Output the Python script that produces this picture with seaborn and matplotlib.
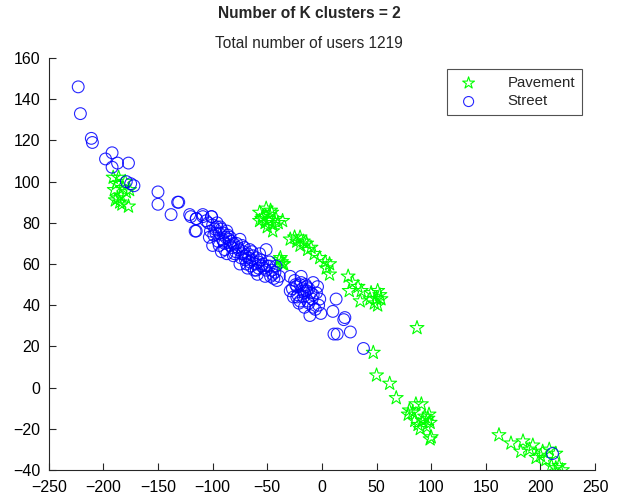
import matplotlib
matplotlib.use("Agg")
import matplotlib.pyplot as plt
import seaborn as sns
import pandas as pd

# --- dados (coordenadas aproximadas) ---
street_x = [-223, -221, -211, -210, -192, -198, -187, -177, -192, -179, -175, -172,
            -150, -150, -132, -131, -138, -120, -115, -109, -101, -115,
            -121, -115, -109, -101, -116, -104, -96, -103, -90, -100, -84, -92,
            -75, -81, -66, -69, -57, -51, -60, -51, -45, -42, -39, -52, -75,
            -98, -94, -91, -88, -95, -86, -82, -97, -93, -89, -85, -79, -77,
            -72, -70, -67, -63, -61, -58, -65, -62, -55, -48, -46, -53, -70, -87,
            -106, -100, -78, -73, -56, -64, -44, -48,
            -102, -99, -96, -92, -90, -87, -84, -81, -80, -76, -74, -71, -68, -66,
            -64, -60, -58, -54, -50, -47, -43, -41, -94, -89, -83, -73, -68, -59,
            -29, -19, -8, -4, -23, -29, -17, -8, -2, -16, -8, -1, -11, -20, -14,
            -25, -22, -18, -13, -21, -15, -10, -26, -6, -12,
            -27, -24, -19, -16, -12, -9, -20, -17, -14, -23, -5, -3,
            10, 13, 21, 11, 20, 14, 26, 38, 211]
street_y = [146, 133, 121, 119, 114, 111, 109, 109, 107, 100, 99, 98,
            95, 89, 90, 90, 84, 83, 82, 83, 83, 76,
            84, 82, 84, 83, 76, 80, 78, 73, 75, 69, 69, 66,
            72, 64, 67, 60, 65, 67, 57, 57, 55, 59, 54, 54, 60,
            77, 75, 72, 73, 71, 74, 68, 75, 78, 70, 72, 66, 68,
            66, 62, 63, 64, 60, 61, 59, 57, 59, 61, 57, 58, 64, 65,
            81, 79, 70, 65, 62, 66, 53, 59,
            76, 74, 80, 77, 71, 76, 73, 70, 65, 67, 63, 68, 65, 61,
            62, 63, 58, 60, 59, 54, 56, 52, 69, 67, 71, 69, 58, 55,
            54, 54, 51, 49, 49, 47, 44, 45, 43, 39, 39, 36, 35, 50, 47,
            52, 45, 48, 42, 41, 50, 46, 44, 38, 41,
            48, 50, 51, 46, 48, 43, 42, 47, 49, 44, 46, 40,
            37, 43, 34, 26, 33, 26, 27, 19, -32]

pavement_x = [-186, -191, -182, -189, -177, -185, -179, -184, -188, -180, -183, -187, -176, -190,
              -51, -57, -46, -57, -49, -42, -36, -45, -45, -52, -54, -48, -40, -50, -55, -47,
              -25, -29, -20, -20, -14, -13, -7, -2, 3, 7, 4, 7, -23, -17, -10,
              -37, -39, -35, -38, -36,
              24, 28, 25, 33, 36, 35, 45, 51, 50, 54, 51, 44, 48, 53, 87,
              47, 50, 62, 68,
              86, 91, 80, 79, 85, 92, 98, 99, 96, 100, 99, 88, 94, 83, 90, 97,
              162, 173, 184, 182, 190, 196, 202, 205, 210, 217, 214, 208, 214, 200, 193, 220]
pavement_y = [102, 102, 97, 91, 88, 90, 95, 93, 99, 100, 89, 92, 96, 96,
              87, 85, 85, 81, 81, 82, 81, 79, 76, 80, 83, 84, 80, 78, 82, 86,
              73, 72, 73, 69, 70, 67, 65, 63, 61, 60, 58, 55, 71, 71, 68,
              61, 62, 60, 63, 60,
              54, 51, 47, 49, 47, 42, 46, 47, 43, 43, 40, 43, 41, 45, 29,
              17, 6, 2, -5,
              -8, -8, -11, -13, -16, -16, -13, -17, -19, -24, -25, -18, -14, -12, -20, -15,
              -23, -27, -26, -31, -30, -34, -31, -35, -38, -38, -39, -30, -32, -33, -28, -40]

total_users = 1219
k = 2

df_street = pd.DataFrame({"x": street_x, "y": street_y})
df_pav = pd.DataFrame({"x": pavement_x, "y": pavement_y})

sns.set_style("ticks")
plt.rcParams['font.family'] = ['Liberation Sans', 'DejaVu Sans']

fig = plt.figure(figsize=(6.18, 4.98), dpi=100)
ax = fig.add_axes([0.0788, 0.0562, 0.8842, 0.8273])

sns.scatterplot(data=df_pav, x="x", y="y", ax=ax, marker="*", s=110,
                facecolor="none", edgecolor=(0, 1, 0), linewidth=0.8, label="Pavement")
sns.scatterplot(data=df_street, x="x", y="y", ax=ax, marker="o", s=72,
                facecolor="none", edgecolor=(0, 0, 1), linewidth=0.8, alpha=0.85, label="Street")

ax.set_xlim(-250, 250)
ax.set_ylim(-40, 160)
ax.set_xticks(range(-250, 251, 50))
ax.set_yticks(range(-40, 161, 20))
ax.set_xlabel("")
ax.set_ylabel("")
ax.tick_params(direction="in", length=5, width=0.8, colors="#262626", labelsize=11.5, labelcolor="black")
ax.tick_params(axis="x", pad=7)
ax.tick_params(axis="y", pad=6)
for s in ["left", "bottom"]:
    ax.spines[s].set_color("#262626")
    ax.spines[s].set_linewidth(0.8)
sns.despine(ax=ax)

# legenda no canto superior direito, com caixa simples
leg = ax.legend(loc="upper right", bbox_to_anchor=(0.9417, 0.861), bbox_transform=fig.transFigure,
                frameon=True, fancybox=False, edgecolor="#262626", fontsize=10.8,
                markerscale=0.85, handletextpad=1.6, borderpad=0.45, labelspacing=0.3,
                borderaxespad=0)
leg.get_frame().set_linewidth(0.8)

fig.text(0.5, 0.972, f"Number of K clusters = {k}", ha="center", va="center",
         fontsize=11.2, fontweight="bold")
fig.text(0.5, 0.913, f"Total number of users {total_users}", ha="center", va="center",
         fontsize=11.2)

fig.savefig("out.png", dpi=100)
